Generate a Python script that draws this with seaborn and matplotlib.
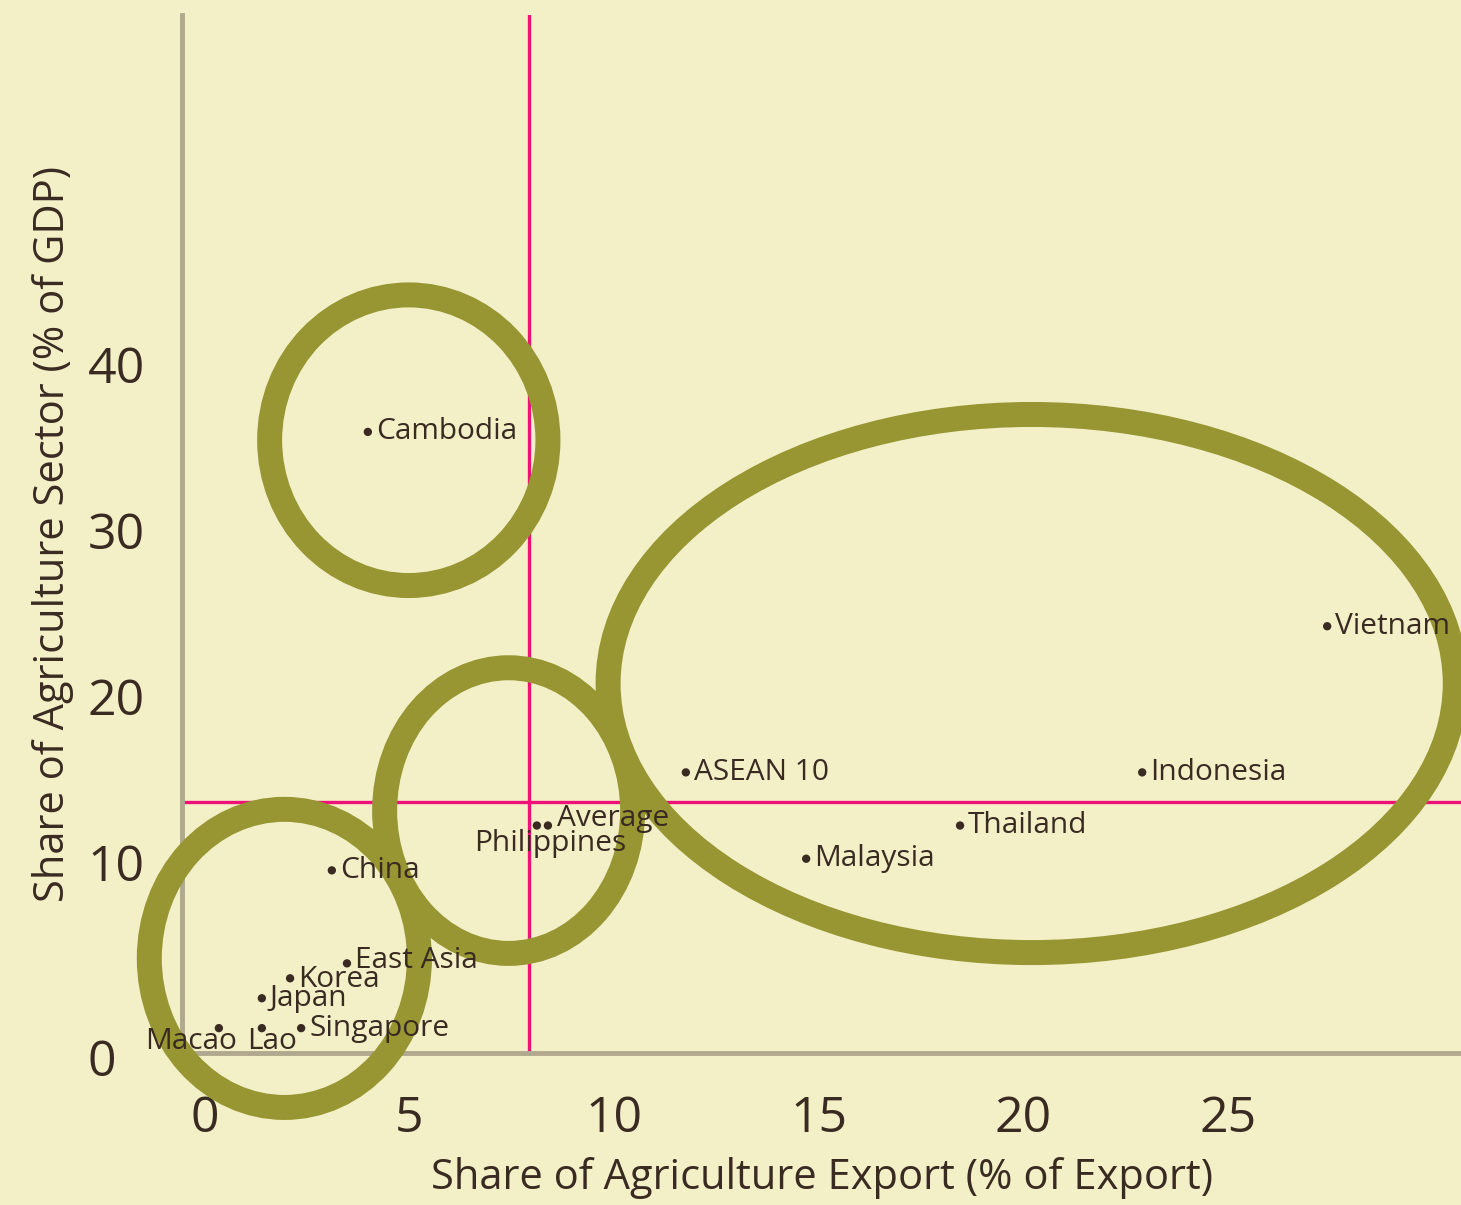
"""Agriculture share of GDP vs share of agriculture exports, East Asia."""

import matplotlib.pyplot as plt
import matplotlib.transforms as mtransforms
import pandas as pd
import seaborn as sns
from matplotlib.patches import Ellipse

# data
countries = [
    "Cambodia", "Vietnam", "ASEAN 10", "Indonesia", "Thailand", "Malaysia",
    "Philippines", "Average", "China", "East Asia", "Korea", "Japan",
    "Singapore", "Macao", "Lao",
]
export_share = [3.98, 27.42, 11.75, 22.9, 18.45, 14.69,
                8.11, 8.38, 3.10, 3.47, 2.08, 1.39,
                2.35, 0.34, 1.39]
gdp_share = [35.9, 24.2, 15.4, 15.4, 12.2, 10.2,
             12.2, 12.2, 9.5, 3.9, 3.0, 1.8,
             0.0, 0.0, 0.0]

avg_export = 7.92
avg_gdp = 13.6

# group rings: centre x, centre y, width, height (data units)
ring_x = [4.98, 1.94, 7.42, 20.2]
ring_y = [35.4, 4.2, 13.1, 20.75]
ring_w = [6.8, 6.6, 6.06, 20.7]
ring_h = [17.5, 17.95, 17.2, 32.4]

x_ticks = [0, 5, 10, 15, 20, 25]
y_ticks = [0, 10, 20, 30, 40]

# label offsets in pixels (dx, dy, ha)
label_pos = {
    "Macao": (-28, -13, "center"),
    "Lao": (10, -13, "center"),
    "Philippines": (13, -18, "center"),
    "Average": (9, 7, "left"),
    "East Asia": (8, 3, "left"),
    "Korea": (8, -1, "left"),
}

BG = "#f3f0c8"
INK = "#3a2b22"
PINK = "#ee117a"
OLIVE = "#979632"

sns.set_theme(style="white")
plt.rcParams["font.family"] = ["Open Sans", "DejaVu Sans"]

df = pd.DataFrame({"country": countries, "export": export_share, "gdp": gdp_share})

fig = plt.figure(figsize=(14.61, 12.05), dpi=100, facecolor=BG)
ax = fig.add_axes([0.1246, 0.1261, 0.8754, 0.8614])
ax.set_facecolor(BG)

ax.axvline(avg_export, color=PINK, lw=2.4, zorder=1)
ax.axhline(avg_gdp, color=PINK, lw=2.4, zorder=1)

for cx, cy, w, h in zip(ring_x, ring_y, ring_w, ring_h):
    ax.add_patch(Ellipse((cx, cy), w, h, fill=False, edgecolor=OLIVE,
                         lw=18, zorder=2, clip_on=False))

sns.scatterplot(data=df, x="export", y="gdp", color=INK, s=36,
                edgecolor="none", ax=ax, zorder=4, clip_on=False)

for name, x, y in zip(countries, export_share, gdp_share):
    dx, dy, ha = label_pos.get(name, (8, 0, "left"))
    ax.annotate(name, (x, y), xytext=(dx, dy), textcoords="offset pixels",
                ha=ha, va="center", fontsize=21.5, color=INK, zorder=5,
                annotation_clip=False)

ax.set_xlim(-0.56, 30.69)
ax.set_ylim(-1.5, 61.0)
ax.set_xticks(x_ticks)
ax.set_yticks(y_ticks)
ax.tick_params(axis="both", length=0, labelsize=36, labelcolor=INK)
ax.tick_params(axis="x", pad=30)
ax.tick_params(axis="y", pad=68)

# y tick numbers are left-aligned; the 0 sits a little lower
shift = mtransforms.ScaledTranslation(0, -0.29, fig.dpi_scale_trans)
ylabels = ax.get_yticklabels()
for lab in ylabels:
    lab.set_horizontalalignment("left")
ylabels[0].set_transform(ylabels[0].get_transform() + shift)

ax.set_xlabel("Share of Agriculture Export (% of Export)", fontsize=30,
              color=INK, labelpad=9)
ax.set_ylabel("Share of Agriculture Sector (% of GDP)", fontsize=30,
              color=INK, labelpad=10)

sns.despine(ax=ax)
for side in ("left", "bottom"):
    ax.spines[side].set_color("#b0a88f")
    ax.spines[side].set_linewidth(3.5)
    ax.spines[side].set_zorder(1)

fig.savefig("out.png", dpi=100, facecolor=BG)
